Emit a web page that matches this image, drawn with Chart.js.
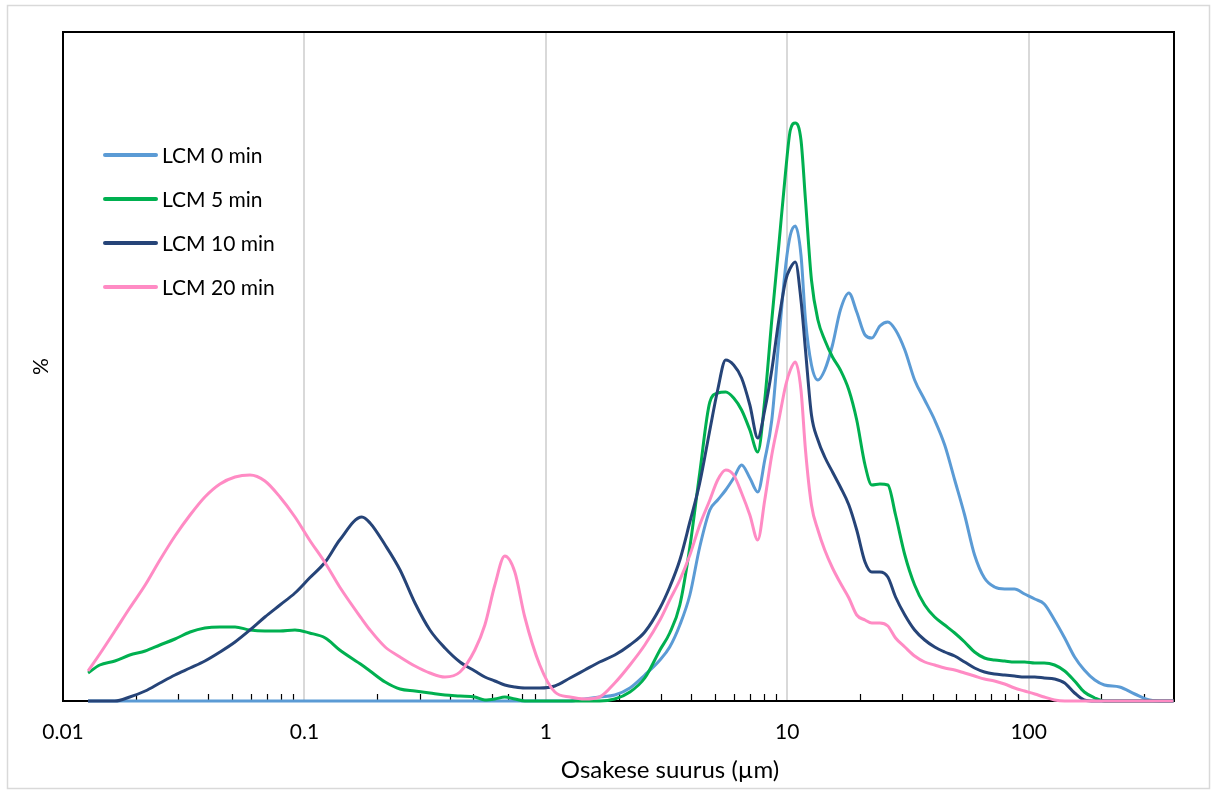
<!DOCTYPE html>
<html>
<head>
<meta charset="utf-8">
<script src="https://cdn.jsdelivr.net/npm/chart.js@4.4.1/dist/chart.umd.min.js"></script>
<style>
  html, body { margin: 0; padding: 0; background: #fff; }
  #wrap { width: 1213px; height: 792px; }
</style>
</head>
<body>
<div id="wrap"><canvas id="graafik" width="1213" height="792"></canvas></div>
<script>
// osakese suurus (µm)
const sizes = [0.0127, 0.0142, 0.0164, 0.0189, 0.0219, 0.0252, 0.0291, 0.0336, 0.0387, 0.0447,
  0.0516, 0.0595, 0.0686, 0.0792, 0.0914, 0.105, 0.122, 0.140, 0.173, 0.187,
  0.216, 0.249, 0.287, 0.331, 0.382, 0.441, 0.508, 0.559, 0.615, 0.676,
  0.744, 0.818, 0.944, 1.09, 1.26, 1.45, 1.67, 1.93, 2.23, 2.57,
  2.97, 3.26, 3.59, 3.95, 4.34, 4.78, 5.15, 5.56, 6.00, 6.47,
  7.00, 7.55, 8.07, 8.63, 9.23, 9.86, 10.3, 10.8, 11.4, 11.9,
  12.6, 13.4, 14.3, 15.4, 16.6, 18.0, 19.4, 21.0, 22.4, 24.2,
  26.1, 28.1, 30.7, 33.7, 37.1, 40.8, 44.9, 49.4, 54.3, 59.7,
  65.6, 72.2, 79.5, 87.4, 96.2, 106, 116, 128, 141, 155,
  170, 188, 206, 238, 275, 317, 366, 398];

const lcm0 = [0, 0, 0, 0, 0, 0, 0, 0, 0, 0,
  0, 0, 0, 0, 0, 0, 0, 0, 0, 0,
  0, 0, 0, 0, 0, 0, 0, 0, 0, 0,
  0, 0, 0, 0, 0, 0.02, 0.04, 0.06, 0.13, 0.26,
  0.41, 0.54, 0.76, 1.06, 1.54, 1.91, 2.01, 2.11, 2.23, 2.36,
  2.23, 2.09, 2.41, 2.81, 3.61, 4.36, 4.66, 4.75, 4.46, 3.81,
  3.36, 3.21, 3.31, 3.56, 3.91, 4.08, 3.89, 3.66, 3.63, 3.75,
  3.79, 3.71, 3.51, 3.21, 3.01, 2.81, 2.56, 2.21, 1.86, 1.46,
  1.23, 1.14, 1.12, 1.12, 1.07, 1.02, 0.97, 0.81, 0.63, 0.44,
  0.31, 0.21, 0.16, 0.14, 0.07, 0.01, 0, 0];

const lcm5 = [0.28, 0.36, 0.40, 0.46, 0.50, 0.56, 0.62, 0.69, 0.73, 0.74,
  0.74, 0.71, 0.70, 0.70, 0.71, 0.68, 0.63, 0.51, 0.36, 0.30,
  0.19, 0.12, 0.10, 0.08, 0.06, 0.05, 0.04, 0.01, 0.02, 0.04,
  0.02, 0, 0, 0, 0, 0, 0, 0.02, 0.09, 0.23,
  0.51, 0.68, 0.96, 1.54, 2.28, 2.99, 3.08, 3.09, 3.03, 2.91,
  2.71, 2.49, 3.01, 3.81, 4.56, 5.31, 5.71, 5.78, 5.61, 5.01,
  4.21, 3.81, 3.61, 3.44, 3.31, 3.11, 2.81, 2.36, 2.16, 2.17,
  2.16, 1.86, 1.46, 1.16, 0.96, 0.84, 0.76, 0.68, 0.59, 0.49,
  0.43, 0.41, 0.40, 0.39, 0.39, 0.38, 0.38, 0.36, 0.30, 0.20,
  0.09, 0.03, 0, 0, 0, 0, 0, 0];

const lcm10 = [0, 0, 0, 0.04, 0.10, 0.18, 0.26, 0.33, 0.40, 0.49,
  0.59, 0.71, 0.84, 0.96, 1.08, 1.23, 1.39, 1.61, 1.84, 1.78,
  1.56, 1.31, 0.98, 0.71, 0.53, 0.39, 0.30, 0.24, 0.20, 0.16,
  0.14, 0.13, 0.13, 0.15, 0.23, 0.31, 0.39, 0.46, 0.56, 0.69,
  0.93, 1.14, 1.41, 1.79, 2.18, 2.71, 3.11, 3.41, 3.36, 3.23,
  2.96, 2.63, 2.91, 3.31, 3.81, 4.21, 4.33, 4.39, 4.01, 3.51,
  2.86, 2.61, 2.44, 2.29, 2.14, 1.96, 1.71, 1.39, 1.29, 1.29,
  1.24, 1.04, 0.86, 0.71, 0.61, 0.54, 0.49, 0.45, 0.39, 0.33,
  0.29, 0.27, 0.26, 0.25, 0.24, 0.24, 0.23, 0.22, 0.18, 0.08,
  0.01, 0, 0, 0, 0, 0, 0, 0];

const lcm20 = [0.30, 0.47, 0.70, 0.93, 1.16, 1.41, 1.65, 1.86, 2.04, 2.17,
  2.24, 2.26, 2.20, 2.04, 1.84, 1.61, 1.38, 1.14, 0.82, 0.71,
  0.54, 0.44, 0.35, 0.28, 0.24, 0.29, 0.51, 0.76, 1.16, 1.45,
  1.29, 0.84, 0.36, 0.09, 0.04, 0.02, 0.04, 0.18, 0.36, 0.56,
  0.81, 1.01, 1.21, 1.46, 1.76, 2.01, 2.21, 2.31, 2.26, 2.08,
  1.86, 1.61, 2.01, 2.46, 2.81, 3.16, 3.31, 3.39, 3.11, 2.51,
  1.96, 1.71, 1.51, 1.33, 1.18, 1.03, 0.86, 0.81, 0.78, 0.78,
  0.75, 0.63, 0.54, 0.45, 0.39, 0.36, 0.33, 0.31, 0.28, 0.25,
  0.22, 0.20, 0.17, 0.13, 0.10, 0.07, 0.04, 0.01, 0, 0,
  0, 0, 0, 0, 0, 0, 0, 0];

const seriesLabels = ['LCM 0 min', 'LCM 5 min', 'LCM 10 min', 'LCM 20 min'];
const seriesValues = [lcm0, lcm5, lcm10, lcm20];
const seriesColors = ['#5B9BD5', '#00B050', '#264478', '#FF8BC4'];
const xTickValues = [0.01, 0.1, 1, 10, 100];
const minorSteps = [2, 3, 4, 5, 6, 7, 8, 9];
const xTitle = 'Osakese suurus (µm)';

const FONT = 'Lato, "Liberation Sans", sans-serif';

// raam, väikesed jaotised, legend, x-telje pealkiri
const raamPlugin = {
  id: 'raam',
  beforeDraw(chart) {
    const c = chart.ctx;
    c.save();
    c.fillStyle = '#fff';
    c.fillRect(0, 0, chart.width, chart.height);
    c.strokeStyle = '#D9D9D9';
    c.lineWidth = 1.5;
    c.strokeRect(7.5, 5.5, 1202, 783);
    c.restore();
  },
  beforeDatasetsDraw(chart) {
    const c = chart.ctx;
    const a = chart.chartArea;
    const sx = chart.scales.x;
    c.save();
    c.strokeStyle = '#000';
    c.lineWidth = 1.2;
    xTickValues.forEach(dec => {
      minorSteps.forEach(m => {
        const v = dec * m;
        if (v >= sx.max) return;
        const px = Math.round(sx.getPixelForValue(v)) + 0.5;
        c.beginPath();
        c.moveTo(px, a.bottom);
        c.lineTo(px, a.bottom - 7);
        c.stroke();
      });
    });
    c.lineWidth = 2;
    c.strokeRect(a.left, a.top, a.right - a.left, a.bottom - a.top);
    c.restore();
  },
  afterDatasetsDraw(chart) {
    const c = chart.ctx;
    c.save();
    c.font = '21px ' + FONT;
    c.textBaseline = 'middle';
    c.fillStyle = '#000';
    seriesLabels.forEach((lbl, i) => {
      const y = 155 + i * 44;
      c.strokeStyle = seriesColors[i];
      c.lineWidth = 4;
      c.lineCap = 'round';
      c.beginPath();
      c.moveTo(105, y);
      c.lineTo(156, y);
      c.stroke();
      c.fillText(lbl, 162, y + 1);
    });
    // x-telje pealkiri (Exceli graafikul veidi paremal)
    c.font = '24px ' + FONT;
    c.textAlign = 'center';
    c.fillText(xTitle, 670, 770);
    c.restore();
  }
};

const ctx = document.getElementById('graafik').getContext('2d');
new Chart(ctx, {
  type: 'line',
  data: {
    datasets: seriesLabels.map((lbl, i) => ({
      label: lbl,
      data: sizes.map((s, j) => ({ x: s, y: seriesValues[i][j] })),
      borderColor: seriesColors[i],
      backgroundColor: seriesColors[i],
      borderWidth: 3,
      pointRadius: 0,
      cubicInterpolationMode: 'monotone',
      clip: false,
      order: seriesLabels.length - i
    }))
  },
  options: {
    responsive: false,
    animation: false,
    layout: { padding: { top: 32, right: 39, left: 0, bottom: 0 } },
    plugins: {
      legend: { display: false },
      tooltip: { enabled: false }
    },
    scales: {
      x: {
        type: 'logarithmic',
        min: 0.01,
        max: 400,
        afterBuildTicks: s => { s.ticks = xTickValues.map(v => ({ value: v })); },
        afterFit: s => { s.height = 91; },
        ticks: {
          autoSkip: false,
          maxRotation: 0,
          padding: 19,
          color: '#000',
          font: { family: FONT, size: 21 },
          callback: v => String(v)
        },
        grid: {
          drawTicks: false,
          lineWidth: 2,
          color: c => (c.tick && c.tick.value === 0.01) ? 'rgba(0,0,0,0)' : '#D9D9D9'
        },
        border: { display: false },
        title: { display: false }
      },
      y: {
        min: 0,
        max: 6.69,
        afterFit: s => { s.width = 63; },
        ticks: { display: false },
        grid: { display: false },
        border: { display: false },
        title: {
          display: true,
          text: '%',
          color: '#000',
          font: { family: FONT, size: 21 },
          padding: { top: 29, bottom: 0 }
        }
      }
    }
  },
  plugins: [raamPlugin]
});
</script>
</body>
</html>
